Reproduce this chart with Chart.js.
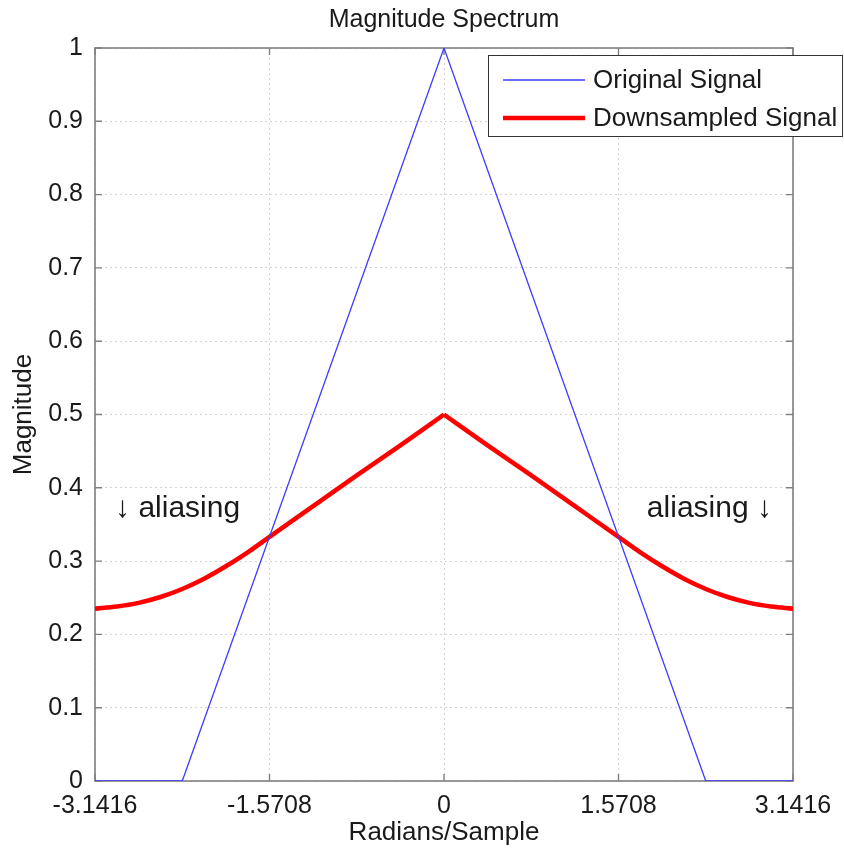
<!DOCTYPE html>
<html>
<head>
<meta charset="utf-8">
<script src="https://cdn.jsdelivr.net/npm/chart.js@4/dist/chart.umd.min.js"></script>
<style>
html,body{margin:0;padding:0;background:#fff;}
#wrap{width:844px;height:853px;}
</style>
</head>
<body>
<div id="wrap"><canvas id="c" width="844" height="853"></canvas></div>
<script>
// ---- data ----
const origX = [-3.1416, -2.3562, 0, 2.3562, 3.1416];
const origY = [0, 0, 1, 0, 0];

const downX = [-3.1416, -2.9452, -2.7489, -2.5525, -2.3562, -2.1598, -1.9635, -1.7671, -1.5708,
               -1.1781, -0.7854, -0.3927, 0, 0.3927, 0.7854, 1.1781,
               1.5708, 1.7671, 1.9635, 2.1598, 2.3562, 2.5525, 2.7489, 2.9452, 3.1416];
const downY = [0.235, 0.238, 0.243, 0.251, 0.262, 0.276, 0.293, 0.312, 0.333,
               0.375, 0.417, 0.458, 0.5, 0.458, 0.417, 0.375,
               0.333, 0.312, 0.293, 0.276, 0.262, 0.251, 0.243, 0.238, 0.235];

const xTickValues = [-3.1416, -1.5708, 0, 1.5708, 3.1416];
const xTickLabels = ['-3.1416', '-1.5708', '0', '1.5708', '3.1416'];
const yTickLabels = ['0','0.1','0.2','0.3','0.4','0.5','0.6','0.7','0.8','0.9','1'];

const seriesNames = ['Original Signal', 'Downsampled Signal'];
const titleText = 'Magnitude Spectrum';
const xTitle = 'Radians/Sample';
const yTitle = 'Magnitude';
const notes = [
  {text: '\u2193 aliasing', x: -2.961, y: 0.36, align: 'left'},
  {text: 'aliasing \u2193', x: 2.952, y: 0.36, align: 'right'}
];

const FONT = "'Liberation Sans', Arial, Helvetica, sans-serif";
const TXT = '#1a1a1a';

// split the red series at its peak so the corner stays sharp
const peak = downY.indexOf(Math.max(...downY));
const toPts = (xs, ys) => xs.map((v, i) => ({x: v, y: ys[i]}));
const downLeft = toPts(downX.slice(0, peak + 1), downY.slice(0, peak + 1));
const downRight = toPts(downX.slice(peak), downY.slice(peak));

const frame = {
  id: 'frame',
  beforeDatasetsDraw(chart) {
    const {ctx, chartArea: a, scales: {x, y}} = chart;
    ctx.save();
    ctx.strokeStyle = '#808080';
    ctx.lineWidth = 1.6;
    ctx.strokeRect(a.left, a.top, a.right - a.left, a.bottom - a.top);
    const L = 7;
    ctx.lineWidth = 1.4;
    ctx.beginPath();
    xTickValues.forEach(v => {
      const px = x.getPixelForValue(v);
      ctx.moveTo(px, a.bottom); ctx.lineTo(px, a.bottom - L);
      ctx.moveTo(px, a.top); ctx.lineTo(px, a.top + L);
    });
    yTickLabels.forEach(t => {
      const py = y.getPixelForValue(parseFloat(t));
      ctx.moveTo(a.left, py); ctx.lineTo(a.left + L, py);
      ctx.moveTo(a.right, py); ctx.lineTo(a.right - L, py);
    });
    ctx.stroke();
    ctx.restore();
  },
  afterDatasetsDraw(chart) {
    const {ctx, scales: {x, y}} = chart;
    ctx.save();
    ctx.fillStyle = TXT;
    ctx.font = '30px ' + FONT;
    ctx.textBaseline = 'alphabetic';
    notes.forEach(n => {
      ctx.textAlign = n.align;
      ctx.fillText(n.text, x.getPixelForValue(n.x), y.getPixelForValue(n.y));
    });
    ctx.restore();
  },
  afterDraw(chart) {
    const {ctx} = chart;
    const seen = new Set();
    const ds = chart.data.datasets.filter(d => !seen.has(d.label) && seen.add(d.label));
    ctx.save();
    const bx = 488.5, by = 55.5, bw = 354, bh = 81;
    ctx.fillStyle = '#ffffff';
    ctx.fillRect(bx, by, bw, bh);
    ctx.strokeStyle = '#333333';
    ctx.lineWidth = 1;
    ctx.strokeRect(bx, by, bw, bh);
    const rows = [80, 118];
    ds.forEach((d, i) => {
      ctx.strokeStyle = d.borderColor;
      ctx.lineWidth = d.borderWidth;
      ctx.beginPath();
      ctx.moveTo(503, rows[i]); ctx.lineTo(585, rows[i]);
      ctx.stroke();
      ctx.fillStyle = TXT;
      ctx.font = '26px ' + FONT;
      ctx.textAlign = 'left';
      ctx.textBaseline = 'middle';
      ctx.fillText(d.label, 593, rows[i] + 1);
    });
    ctx.restore();
  }
};

const redStyle = {
  label: seriesNames[1],
  borderColor: '#ff0000',
  borderWidth: 4.5,
  pointRadius: 0,
  cubicInterpolationMode: 'monotone',
  fill: false
};

new Chart(document.getElementById('c'), {
  type: 'line',
  data: {
    datasets: [
      {
        label: seriesNames[0],
        data: toPts(origX, origY),
        borderColor: 'rgb(60,60,255)',
        borderWidth: 1.3,
        pointRadius: 0,
        tension: 0,
        fill: false
      },
      Object.assign({data: downLeft}, redStyle),
      Object.assign({data: downRight}, redStyle)
    ]
  },
  options: {
    responsive: false,
    devicePixelRatio: 1,
    animation: false,
    events: [],
    layout: {padding: {top: 0, left: 0, right: 51, bottom: 0}},
    plugins: {
      legend: {display: false},
      tooltip: {enabled: false},
      title: {
        display: true,
        text: titleText,
        fullSize: false,
        color: TXT,
        font: {family: FONT, size: 25, weight: 'normal', lineHeight: 1.2},
        padding: {top: 5, bottom: 13}
      }
    },
    scales: {
      x: {
        type: 'linear',
        min: -3.1416,
        max: 3.1416,
        afterBuildTicks: s => { s.ticks = xTickValues.map(v => ({value: v})); },
        afterFit: s => { s.height = 72; },
        ticks: {
          autoSkip: false,
          maxRotation: 0,
          padding: 10,
          color: TXT,
          font: {family: FONT, size: 25},
          callback: (v, i) => xTickLabels[i]
        },
        grid: {color: '#d4d4d4', lineWidth: 1, drawTicks: false},
        border: {display: false, dash: [2, 3]},
        title: {
          display: true,
          text: xTitle,
          color: TXT,
          font: {family: FONT, size: 26, lineHeight: 1.2},
          padding: {top: 0, bottom: 5}
        }
      },
      y: {
        type: 'linear',
        min: 0,
        max: 1,
        afterBuildTicks: s => { s.ticks = yTickLabels.map(t => ({value: parseFloat(t)})); },
        afterFit: s => { s.width = 95; },
        ticks: {
          autoSkip: false,
          padding: 12,
          color: TXT,
          font: {family: FONT, size: 25},
          callback: (v, i) => yTickLabels[i]
        },
        grid: {color: '#d4d4d4', lineWidth: 1, drawTicks: false},
        border: {display: false, dash: [2, 3]},
        title: {
          display: true,
          text: yTitle,
          color: TXT,
          font: {family: FONT, size: 26, lineHeight: 1.2},
          padding: {top: 8, bottom: 0}
        }
      }
    }
  },
  plugins: [frame]
});
</script>
</body>
</html>
